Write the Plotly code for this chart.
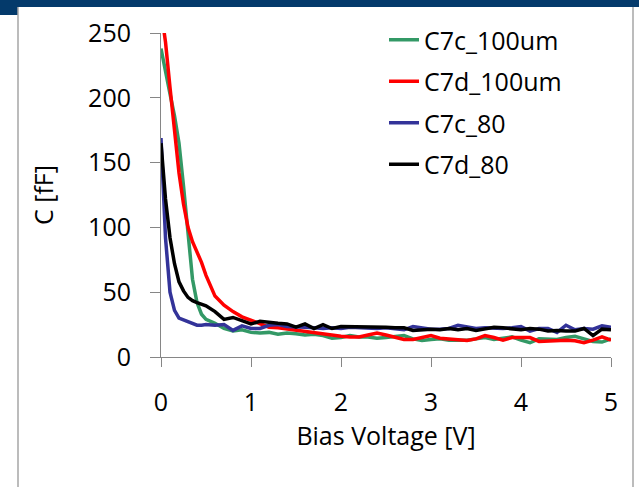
import plotly.graph_objects as go

# ---- data ----
bias_v = [0, 0.05, 0.1, 0.15, 0.2, 0.25, 0.3, 0.35, 0.4, 0.45, 0.5, 0.6, 0.7, 0.8, 0.9, 1.0,
          1.1, 1.2, 1.3, 1.4, 1.5, 1.6, 1.7, 1.8, 1.9, 2.0,
          2.1, 2.2, 2.3, 2.4, 2.5, 2.6, 2.7, 2.8, 2.9, 3.0,
          3.1, 3.2, 3.3, 3.4, 3.5, 3.6, 3.7, 3.8, 3.9, 4.0,
          4.1, 4.2, 4.3, 4.4, 4.5, 4.6, 4.7, 4.8, 4.9, 5.0]

c7c_100um = [238, 222, 203, 186, 165, 132, 95, 60, 42, 33, 29, 26, 22, 20, 21, 19,
             18.5, 19, 17.5, 18.5, 18, 17, 17.5, 16.5, 14.5, 15,
             16.5, 15.5, 15.5, 14.5, 15, 15.5, 16.5, 14, 12.8, 13.5,
             14, 13, 13, 13, 14, 15, 13.5, 14.5, 15.5, 13,
             11, 14, 13.5, 13.5, 15, 16, 14, 12, 11.5, 14]

c7d_100um = [268, 243, 208, 175, 142, 118, 100, 89, 81, 73, 63, 47, 40, 35, 31, 28.5,
             25.5, 23, 22.5, 21.5, 21, 20, 19, 18, 17, 16,
             15.5, 15.5, 17, 18.5, 17, 15, 13.5, 13.5, 15, 16.5,
             14.5, 14, 13, 12.8, 14, 16.5, 15, 13, 15, 15,
             15, 12, 12.5, 13, 13, 12.5, 11, 13, 15.5, 13]

c7c_80 = [169, 92, 50, 36, 30, 28.5, 27, 25.5, 24.5, 24.5, 25, 24.5, 25, 20.5, 24, 22,
          22, 24.5, 25, 23.5, 23.5, 23, 22.5, 22, 22.5, 22,
          23, 22.5, 22, 22, 22.5, 21.5, 21, 23.5, 22.5, 21.5,
          21.5, 22, 24.5, 23.5, 22, 22.5, 22, 22, 22.5, 23.5,
          20, 22, 22, 19, 24.5, 21, 22, 21.5, 24, 23]

c7d_80 = [165, 122, 92, 72, 58, 51, 46, 43.5, 42, 41, 39.5, 35, 29, 30.5, 28, 25.5,
          27.5, 26.5, 26, 25.5, 23, 25.5, 22, 25, 22, 23.5,
          23.5, 23, 23, 23, 23, 22.5, 22.5, 20.5, 21, 21.5,
          21, 22, 21, 22, 20.5, 21.5, 23, 22.5, 22, 21,
          22, 21.5, 20, 20.5, 20, 20, 22, 16.5, 21.5, 21]

series_names = ["C7c_100um", "C7d_100um", "C7c_80", "C7d_80"]
series_values = [c7c_100um, c7d_100um, c7c_80, c7d_80]
series_colors = ["#339966", "#FF0000", "#333399", "#000000"]

x_ticks = [0, 1, 2, 3, 4, 5]
y_ticks = [0, 50, 100, 150, 200, 250]

# ---- layout geometry ----
W, H = 639, 487
ML, MR, MT, MB = 161, 28, 33, 130
PW, PH = W - ML - MR, H - MT - MB


def px(x):
    return (x - ML) / PW


def py(y):
    return (H - MB - y) / PH


FONT = "Open Sans"

fig = go.Figure()
for i, (name, vals, col) in enumerate(zip(series_names, series_values, series_colors)):
    fig.add_trace(go.Scatter(x=bias_v, y=vals, mode="lines", name=name,
                             legendgroup="g%d" % i,
                             line=dict(color=col, width=3.5)))

shapes = [
    # navy header band
    dict(type="rect", xref="paper", yref="paper", x0=px(0), x1=px(W), y0=py(7), y1=py(0),
         fillcolor="#043A6B", line=dict(width=0), layer="below"),
    dict(type="rect", xref="paper", yref="paper", x0=px(0), x1=px(18), y0=py(15), y1=py(0),
         fillcolor="#043A6B", line=dict(width=0), layer="below"),
    # panel border
    dict(type="line", xref="paper", yref="paper", x0=px(18), x1=px(18), y0=py(7), y1=py(H),
         line=dict(color="#A6A6A6", width=1.5)),
    dict(type="line", xref="paper", yref="paper", x0=px(633), x1=px(633), y0=py(7), y1=py(H),
         line=dict(color="#A6A6A6", width=1.5)),
]

fig.update_layout(
    width=W, height=H,
    margin=dict(l=ML, r=MR, t=MT, b=MB, pad=0),
    paper_bgcolor="white", plot_bgcolor="white",
    font=dict(family=FONT, size=25, color="black"),
    shapes=shapes,
    showlegend=True,
    legend=dict(x=px(384), y=py(17), xanchor="left", yanchor="top",
                bgcolor="rgba(0,0,0,0)", font=dict(family=FONT, size=25),
                tracegroupgap=6, itemwidth=30),
    xaxis=dict(range=[0, 5], tickvals=x_ticks, ticks="outside", ticklen=9,
               tickcolor="#868686", showline=True, linecolor="#868686", linewidth=1,
               showgrid=False, zeroline=False, ticklabelstandoff=14,
               title=dict(text="Bias Voltage [V]", standoff=10,
                          font=dict(family=FONT, size=25))),
    yaxis=dict(range=[0, 250], tickvals=y_ticks, ticks="outside", ticklen=10,
               tickcolor="#868686", showline=True, linecolor="#868686", linewidth=1,
               showgrid=False, zeroline=False, ticklabelstandoff=14,
               title=dict(text="C [fF]", standoff=27,
                          font=dict(family=FONT, size=25))),
)

fig.write_html("out.html")
